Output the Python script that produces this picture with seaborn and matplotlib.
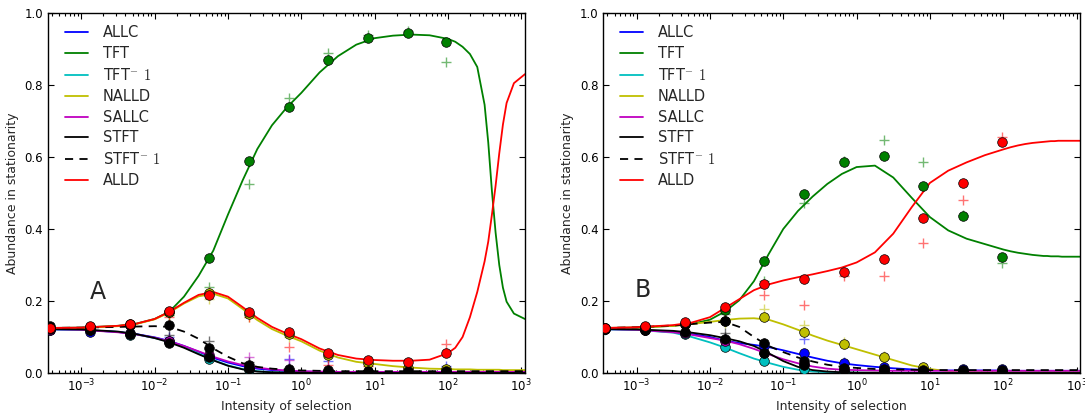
import numpy as np
import matplotlib
matplotlib.use('Agg')
import matplotlib.pyplot as plt
import seaborn as sns
from matplotlib.ticker import FormatStrFormatter

# strategies, in legend order
STRATEGIES = ['ALLC', 'TFT', 'TFT1', 'NALLD', 'SALLC', 'STFT', 'STFT1', 'ALLD']
LABELS = ['ALLC', 'TFT', r'TFT$^{-}\ 1$', 'NALLD', 'SALLC', 'STFT', r'STFT$^{-}\ 1$', 'ALLD']
COLORS = ['#0000ff', '#008000', '#00bfbf', '#bfbf00', '#bf00bf', '#000000', '#000000', '#ff0000']

# log10 of the intensity of selection where the curves were read
CURVE_LOGX = [-3.46, -3.0, -2.5, -2.25, -2.0, -1.8, -1.6, -1.4, -1.2, -1.0, -0.8, -0.6,
              -0.4, -0.2, 0.0, 0.25, 0.5, 0.75, 1.0, 1.25, 1.5, 1.75, 2.0, 2.1, 2.2, 2.3,
              2.4, 2.5, 2.55, 2.6, 2.65, 2.7, 2.75, 2.8, 2.9, 3.05]
# log10 of the intensity of selection of the simulation points
POINT_LOGX = [-3.43, -2.88, -2.34, -1.80, -1.26, -0.715, -0.17, 0.37, 0.91, 1.45, 1.98]

# ---- panel A: curves ----
A_ALLC = [0.121, 0.120, 0.114, 0.108, 0.099, 0.089, 0.075, 0.059, 0.042, 0.029, 0.019, 0.012,
          0.008, 0.005, 0.004, 0.003, 0.003, 0.003, 0.003, 0.003, 0.003, 0.003, 0.003, 0.003,
          0.003, 0.003, 0.003, 0.003, 0.003, 0.003, 0.003, 0.003, 0.003, 0.003, 0.003, 0.003]
A_TFT = [0.125, 0.126, 0.131, 0.137, 0.150, 0.170, 0.212, 0.270, 0.340, 0.440, 0.535, 0.622,
         0.688, 0.737, 0.778, 0.835, 0.880, 0.912, 0.930, 0.937, 0.940, 0.938, 0.928, 0.920,
         0.906, 0.886, 0.850, 0.745, 0.640, 0.505, 0.390, 0.300, 0.237, 0.198, 0.165, 0.150]
A_TFT1 = [0.121, 0.120, 0.114, 0.107, 0.097, 0.087, 0.072, 0.054, 0.036, 0.021, 0.011, 0.005,
          0.002, 0.001, 0.001, 0.0, 0.0, 0.0, 0.0, 0.0, 0.0, 0.0, 0.0, 0.0,
          0.0, 0.0, 0.0, 0.0, 0.0, 0.0, 0.0, 0.0, 0.0, 0.0, 0.0, 0.0]
A_NALLD = [0.124, 0.125, 0.130, 0.136, 0.149, 0.168, 0.193, 0.213, 0.220, 0.207, 0.178, 0.147,
           0.122, 0.104, 0.088, 0.062, 0.043, 0.031, 0.025, 0.019, 0.015, 0.012, 0.011, 0.010,
           0.010, 0.010, 0.009, 0.009, 0.009, 0.009, 0.009, 0.009, 0.008, 0.008, 0.008, 0.008]
A_SALLC = [0.122, 0.120, 0.113, 0.107, 0.098, 0.088, 0.075, 0.060, 0.045, 0.032, 0.022, 0.015,
           0.010, 0.007, 0.005, 0.004, 0.003, 0.003, 0.003, 0.003, 0.003, 0.003, 0.003, 0.003,
           0.003, 0.003, 0.003, 0.003, 0.003, 0.003, 0.003, 0.003, 0.003, 0.003, 0.003, 0.003]
A_STFT = [0.122, 0.121, 0.115, 0.108, 0.097, 0.085, 0.070, 0.052, 0.035, 0.020, 0.010, 0.004,
          0.002, 0.001, 0.001, 0.0, 0.0, 0.0, 0.0, 0.0, 0.0, 0.0, 0.0, 0.0,
          0.0, 0.0, 0.0, 0.0, 0.0, 0.0, 0.0, 0.0, 0.0, 0.0, 0.0, 0.0]
A_STFT1 = [0.125, 0.126, 0.128, 0.129, 0.130, 0.128, 0.115, 0.095, 0.068, 0.045, 0.027, 0.017,
           0.012, 0.009, 0.007, 0.006, 0.005, 0.005, 0.005, 0.005, 0.005, 0.005, 0.005, 0.005,
           0.005, 0.005, 0.005, 0.005, 0.005, 0.005, 0.005, 0.005, 0.005, 0.005, 0.005, 0.005]
A_ALLD = [0.125, 0.126, 0.131, 0.137, 0.150, 0.170, 0.195, 0.217, 0.225, 0.212, 0.183, 0.153,
          0.128, 0.110, 0.094, 0.068, 0.050, 0.040, 0.036, 0.034, 0.034, 0.037, 0.055, 0.070,
          0.100, 0.155, 0.225, 0.310, 0.365, 0.440, 0.520, 0.610, 0.690, 0.750, 0.805, 0.830]

# ---- panel A: simulation points (circles) and second simulation (+) ----
A_ALLC_PTS = [0.118, 0.115, 0.110, 0.088, 0.045, 0.013, 0.006, 0.004, 0.003, 0.003, 0.003]
A_ALLC_PLUS = [0.119, 0.116, 0.109, 0.100, 0.050, 0.020, 0.038, 0.032, 0.025, 0.010, 0.020]
A_TFT_PTS = [0.124, 0.128, 0.134, 0.170, 0.320, 0.590, 0.740, 0.870, 0.930, 0.945, 0.920]
A_TFT_PLUS = [0.124, 0.127, 0.133, 0.160, 0.240, 0.525, 0.765, 0.890, 0.940, 0.950, 0.865]
A_TFT1_PTS = [0.121, 0.118, 0.106, 0.085, 0.040, 0.008, 0.002, 0.001, 0.001, 0.001, 0.001]
A_TFT1_PLUS = [0.120, 0.117, 0.105, 0.090, 0.045, 0.010, 0.003, 0.002, 0.001, 0.001, 0.001]
A_NALLD_PTS = [0.124, 0.128, 0.135, 0.170, 0.222, 0.165, 0.108, 0.050, 0.028, 0.014, 0.012]
A_NALLD_PLUS = [0.123, 0.127, 0.133, 0.160, 0.205, 0.155, 0.100, 0.045, 0.020, 0.012, 0.010]
A_SALLC_PTS = [0.120, 0.118, 0.108, 0.088, 0.050, 0.015, 0.006, 0.004, 0.003, 0.003, 0.003]
A_SALLC_PLUS = [0.120, 0.117, 0.107, 0.095, 0.055, 0.043, 0.036, 0.010, 0.005, 0.004, 0.004]
A_STFT_PTS = [0.122, 0.120, 0.108, 0.083, 0.045, 0.012, 0.004, 0.003, 0.002, 0.002, 0.002]
A_STFT_PLUS = [0.121, 0.119, 0.107, 0.085, 0.048, 0.014, 0.005, 0.003, 0.002, 0.002, 0.002]
A_STFT1_PTS = [0.130, 0.128, 0.133, 0.132, 0.068, 0.021, 0.012, 0.007, 0.005, 0.005, 0.005]
A_STFT1_PLUS = [0.128, 0.127, 0.130, 0.105, 0.090, 0.030, 0.015, 0.008, 0.006, 0.005, 0.005]
A_ALLD_PTS = [0.125, 0.130, 0.137, 0.172, 0.217, 0.168, 0.115, 0.055, 0.036, 0.030, 0.055]
A_ALLD_PLUS = [0.123, 0.128, 0.135, 0.155, 0.225, 0.155, 0.071, 0.022, 0.020, 0.015, 0.080]

# ---- panel B: curves ----
B_ALLC = [0.122, 0.120, 0.114, 0.108, 0.100, 0.090, 0.083, 0.078, 0.072, 0.063, 0.053, 0.043,
          0.034, 0.027, 0.022, 0.017, 0.013, 0.010, 0.008, 0.007, 0.007, 0.007, 0.007, 0.006,
          0.006, 0.006, 0.006, 0.006, 0.006, 0.006, 0.006, 0.006, 0.006, 0.006, 0.006, 0.006]
B_TFT = [0.125, 0.126, 0.131, 0.136, 0.148, 0.170, 0.202, 0.255, 0.330, 0.400, 0.450, 0.490,
         0.525, 0.553, 0.572, 0.576, 0.543, 0.487, 0.433, 0.396, 0.373, 0.358, 0.343, 0.338,
         0.334, 0.331, 0.328, 0.326, 0.325, 0.325, 0.324, 0.324, 0.324, 0.323, 0.323, 0.323]
B_TFT1 = [0.121, 0.120, 0.112, 0.100, 0.085, 0.071, 0.055, 0.040, 0.028, 0.017, 0.009, 0.004,
          0.002, 0.001, 0.001, 0.0, 0.0, 0.0, 0.0, 0.0, 0.0, 0.0, 0.0, 0.0,
          0.0, 0.0, 0.0, 0.0, 0.0, 0.0, 0.0, 0.0, 0.0, 0.0, 0.0, 0.0]
B_NALLD = [0.125, 0.126, 0.131, 0.136, 0.142, 0.147, 0.151, 0.152, 0.148, 0.135, 0.120, 0.104,
           0.090, 0.078, 0.066, 0.051, 0.036, 0.021, 0.011, 0.005, 0.003, 0.002, 0.002, 0.002,
           0.002, 0.002, 0.002, 0.002, 0.002, 0.002, 0.002, 0.002, 0.002, 0.002, 0.002, 0.002]
B_SALLC = [0.122, 0.120, 0.113, 0.106, 0.097, 0.090, 0.080, 0.067, 0.052, 0.038, 0.027, 0.018,
           0.012, 0.009, 0.008, 0.007, 0.006, 0.006, 0.006, 0.006, 0.006, 0.006, 0.006, 0.006,
           0.006, 0.006, 0.006, 0.006, 0.006, 0.006, 0.006, 0.006, 0.006, 0.006, 0.006, 0.006]
B_STFT = [0.122, 0.121, 0.117, 0.112, 0.105, 0.097, 0.088, 0.075, 0.055, 0.033, 0.017, 0.008,
          0.004, 0.002, 0.001, 0.001, 0.0, 0.0, 0.0, 0.0, 0.0, 0.0, 0.0, 0.0,
          0.0, 0.0, 0.0, 0.0, 0.0, 0.0, 0.0, 0.0, 0.0, 0.0, 0.0, 0.0]
B_STFT1 = [0.125, 0.127, 0.132, 0.136, 0.140, 0.142, 0.128, 0.100, 0.075, 0.058, 0.043, 0.032,
           0.023, 0.017, 0.014, 0.011, 0.010, 0.009, 0.008, 0.008, 0.008, 0.008, 0.008, 0.008,
           0.008, 0.008, 0.008, 0.008, 0.008, 0.008, 0.008, 0.008, 0.008, 0.008, 0.008, 0.008]
B_ALLD = [0.125, 0.127, 0.133, 0.140, 0.155, 0.180, 0.205, 0.230, 0.246, 0.257, 0.266, 0.274,
          0.283, 0.293, 0.307, 0.335, 0.387, 0.460, 0.528, 0.562, 0.585, 0.605, 0.621, 0.627,
          0.632, 0.636, 0.639, 0.641, 0.642, 0.643, 0.644, 0.644, 0.645, 0.645, 0.645, 0.645]

# ---- panel B: simulation points ----
B_ALLC_PTS = [0.122, 0.120, 0.112, 0.092, 0.074, 0.055, 0.027, 0.016, 0.010, 0.010, 0.010]
B_ALLC_PLUS = [0.121, 0.119, 0.110, 0.095, 0.080, 0.094, 0.030, 0.018, 0.010, 0.009, 0.009]
B_TFT_PTS = [0.124, 0.128, 0.135, 0.175, 0.311, 0.496, 0.585, 0.603, 0.519, 0.435, 0.323]
B_TFT_PLUS = [0.124, 0.127, 0.133, 0.165, 0.255, 0.473, 0.590, 0.647, 0.585, 0.440, 0.305]
B_TFT1_PTS = [0.121, 0.119, 0.108, 0.071, 0.033, 0.010, 0.003, 0.002, 0.001, 0.001, 0.001]
B_TFT1_PLUS = [0.120, 0.118, 0.107, 0.075, 0.036, 0.012, 0.004, 0.002, 0.001, 0.001, 0.001]
B_NALLD_PTS = [0.125, 0.128, 0.135, 0.145, 0.156, 0.115, 0.080, 0.045, 0.018, 0.005, 0.003]
B_NALLD_PLUS = [0.124, 0.127, 0.134, 0.140, 0.178, 0.133, 0.085, 0.048, 0.015, 0.004, 0.003]
B_SALLC_PTS = [0.122, 0.120, 0.110, 0.090, 0.055, 0.025, 0.010, 0.007, 0.006, 0.006, 0.006]
B_SALLC_PLUS = [0.121, 0.119, 0.109, 0.092, 0.058, 0.028, 0.012, 0.008, 0.006, 0.006, 0.006]
B_STFT_PTS = [0.122, 0.120, 0.113, 0.095, 0.055, 0.022, 0.005, 0.003, 0.003, 0.003, 0.003]
B_STFT_PLUS = [0.121, 0.119, 0.112, 0.100, 0.060, 0.025, 0.008, 0.004, 0.004, 0.004, 0.004]
B_STFT1_PTS = [0.125, 0.128, 0.135, 0.144, 0.084, 0.034, 0.015, 0.010, 0.008, 0.008, 0.008]
B_STFT1_PLUS = [0.124, 0.126, 0.132, 0.112, 0.082, 0.040, 0.018, 0.010, 0.008, 0.008, 0.008]
B_ALLD_PTS = [0.125, 0.131, 0.141, 0.184, 0.247, 0.261, 0.281, 0.316, 0.430, 0.527, 0.641]
B_ALLD_PLUS = [0.123, 0.128, 0.138, 0.170, 0.217, 0.189, 0.268, 0.270, 0.360, 0.480, 0.655]

PANELS = {
    'A': ([A_ALLC, A_TFT, A_TFT1, A_NALLD, A_SALLC, A_STFT, A_STFT1, A_ALLD],
          [A_ALLC_PTS, A_TFT_PTS, A_TFT1_PTS, A_NALLD_PTS, A_SALLC_PTS, A_STFT_PTS, A_STFT1_PTS, A_ALLD_PTS],
          [A_ALLC_PLUS, A_TFT_PLUS, A_TFT1_PLUS, A_NALLD_PLUS, A_SALLC_PLUS, A_STFT_PLUS, A_STFT1_PLUS, A_ALLD_PLUS]),
    'B': ([B_ALLC, B_TFT, B_TFT1, B_NALLD, B_SALLC, B_STFT, B_STFT1, B_ALLD],
          [B_ALLC_PTS, B_TFT_PTS, B_TFT1_PTS, B_NALLD_PTS, B_SALLC_PTS, B_STFT_PTS, B_STFT1_PTS, B_ALLD_PTS],
          [B_ALLC_PLUS, B_TFT_PLUS, B_TFT1_PLUS, B_NALLD_PLUS, B_SALLC_PLUS, B_STFT_PLUS, B_STFT1_PLUS, B_ALLD_PLUS]),
}

sns.set_style('ticks')
plt.rcParams['font.family'] = ['DejaVu Sans']
plt.rcParams['mathtext.fontset'] = 'cm'

fig = plt.figure(figsize=(10.85, 4.13), dpi=100)
ax_a = fig.add_axes([0.0442, 0.0969, 0.4396, 0.8717])
ax_b = fig.add_axes([0.5560, 0.0969, 0.4396, 0.8717])

curve_x = 10 ** np.array(CURVE_LOGX)
point_x = 10 ** np.array(POINT_LOGX)

for ax, letter, letter_pos in [(ax_a, 'A', (0.104, 0.226)), (ax_b, 'B', (0.083, 0.231))]:
    ax.set_xscale('log')
    curves, pts, plus = PANELS[letter]
    for i, name in enumerate(STRATEGIES):
        ls = (0, (4.5, 3.5)) if name == 'STFT1' else '-'
        sns.lineplot(x=curve_x, y=curves[i], color=COLORS[i], linestyle=ls, lw=1.3,
                     sort=False, estimator=None, ax=ax)
        sns.scatterplot(x=point_x, y=plus[i], marker='+', color=COLORS[i], alpha=0.55,
                        s=50, linewidth=1.0, legend=False, ax=ax)
        sns.scatterplot(x=point_x, y=pts[i], marker='o', color=COLORS[i], edgecolor='k',
                        linewidth=0.5, s=48, legend=False, ax=ax, zorder=3)

    ax.set_xlim(10 ** -3.455, 10 ** 3.05)
    ax.set_ylim(0, 1)
    ax.set_yticks([0.0, 0.2, 0.4, 0.6, 0.8, 1.0])
    ax.yaxis.set_major_formatter(FormatStrFormatter('%.1f'))
    ax.tick_params(which='both', direction='in', top=True, right=True, labelsize=8.5,
                   width=0.8, colors='k')
    ax.tick_params(which='major', length=4)
    ax.tick_params(which='minor', length=2)
    for sp in ax.spines.values():
        sp.set_linewidth(1.0)
        sp.set_color('k')
    ax.set_xlabel('Intensity of selection', fontsize=9)
    ax.set_ylabel('Abundance in stationarity', fontsize=9)
    ax.text(letter_pos[0], letter_pos[1], letter, transform=ax.transAxes,
            fontsize=17, ha='center', va='center')
    ax.legend(handles=ax.get_lines()[:8], labels=LABELS, loc='upper left',
              bbox_to_anchor=(0.023, 0.982), borderaxespad=0, frameon=False,
              fontsize=10.5, handlelength=1.6, handletextpad=1.0, labelspacing=0.4)

fig.savefig('out.png', dpi=100)
